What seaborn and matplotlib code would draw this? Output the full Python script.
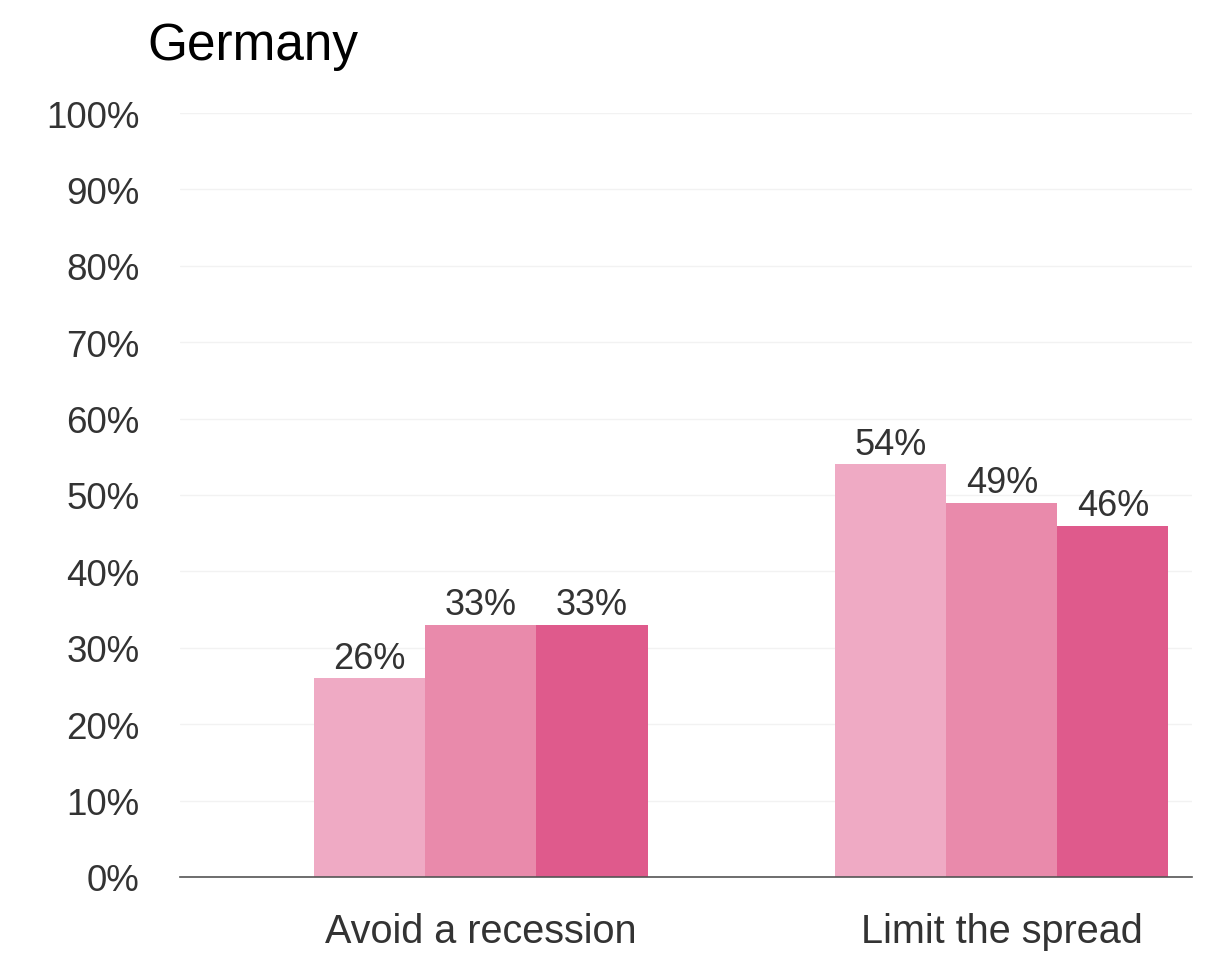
import matplotlib
matplotlib.use("Agg")
import matplotlib.pyplot as plt
import seaborn as sns
import pandas as pd

categories = ["Avoid a recession", "Limit the spread"]
series = ["Series 1", "Series 2", "Series 3"]
values_s1 = [26, 54]
values_s2 = [33, 49]
values_s3 = [33, 46]
colors = ["#EFAAC4", "#E98AAB", "#DF5A8C"]
yticks = [0, 10, 20, 30, 40, 50, 60, 70, 80, 90, 100]

rows = []
for s, vals in zip(series, [values_s1, values_s2, values_s3]):
    for c, v in zip(categories, vals):
        rows.append({"category": c, "series": s, "value": v})
df = pd.DataFrame(rows)

sns.set_theme(style="white")
plt.rcParams["font.family"] = ["Liberation Sans", "DejaVu Sans"]

fig = plt.figure(figsize=(12.15, 9.54), dpi=100)
ax = fig.add_axes([0.148, 0.0797, 0.833, 0.8008])

sns.barplot(data=df, x="category", y="value", hue="series", palette=colors,
            width=0.64, gap=0, saturation=1, ax=ax, legend=False,
            edgecolor="none", linewidth=0)

for cont in ax.containers:
    ax.bar_label(cont, labels=[f"{int(round(v))}%" for v in cont.datavalues],
                 padding=2, fontsize=26, color="#333333")

ax.set_ylim(0, 100)
ax.set_xlim(-0.578, 1.365)
ax.set_yticks(yticks)
ax.set_yticklabels([f"{t}%" for t in yticks])
ax.yaxis.grid(True, color="#F2F2F2", linewidth=1)
ax.set_axisbelow(True)
for sp in ["top", "right", "left"]:
    ax.spines[sp].set_visible(False)
ax.spines["bottom"].set_color("#555555")
ax.spines["bottom"].set_linewidth(1.2)
ax.tick_params(axis="y", length=0, pad=29, labelsize=26.5, labelcolor="#333333")
ax.tick_params(axis="x", length=0, pad=25, labelsize=28.5, labelcolor="#333333")
ax.set_xlabel("")
ax.set_ylabel("")

fig.text(0.121, 0.926, "Germany", fontsize=37, color="black", ha="left", va="bottom")

fig.savefig("out.png", dpi=100, facecolor="white")
